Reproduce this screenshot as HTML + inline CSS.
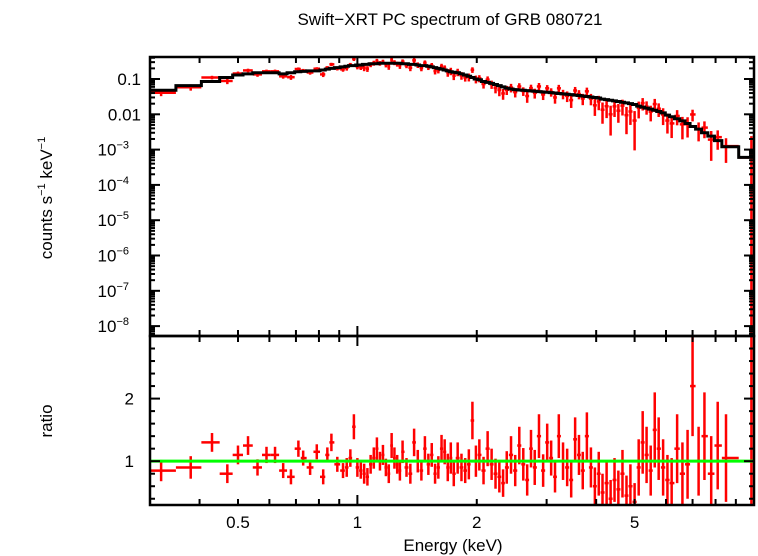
<!DOCTYPE html>
<html><head><meta charset="utf-8"><style>
html,body{margin:0;padding:0;background:#fff;width:758px;height:556px;overflow:hidden;}
svg{display:block;font-family:"Liberation Sans",sans-serif;}
</style></head><body>
<svg id="chart" width="758" height="556" viewBox="0 0 758 556" xmlns="http://www.w3.org/2000/svg">
<rect width="758" height="556" fill="#fff"/>
<text x="450" y="25" font-size="17" text-anchor="middle">Swift−XRT PC spectrum of GRB 080721</text>
<text transform="translate(52,198) rotate(-90)" font-size="17" text-anchor="middle">counts s<tspan font-size="11" dy="-7">−1</tspan><tspan dy="7"> keV</tspan><tspan font-size="11" dy="-7">−1</tspan></text>
<text transform="translate(52,421) rotate(-90)" font-size="17" text-anchor="middle">ratio</text>
<text x="453" y="551" font-size="17" text-anchor="middle">Energy (keV)</text>
<g id="topG"></g><g id="botG"></g><g id="axesG"></g>
</svg>
<script>
const energies=[0.32,0.38,0.43,0.47,0.50,0.53,0.56,0.59,0.62,0.65,
0.68,0.71,0.73,0.76,0.79,0.82,0.84,0.86,0.89,0.92,
0.94,0.96,0.98,1.00,1.02,1.04,1.06,1.08,1.10,1.12,
1.14,1.16,1.18,1.20,1.22,1.24,1.26,1.28,1.30,1.33,
1.36,1.39,1.42,1.45,1.48,1.51,1.54,1.57,1.60,1.63,
1.66,1.69,1.72,1.75,1.79,1.83,1.87,1.91,1.95,1.99,
2.03,2.08,2.13,2.18,2.23,2.28,2.33,2.38,2.44,2.50,
2.56,2.62,2.68,2.74,2.80,2.87,2.94,3.01,3.08,3.15,
3.22,3.30,3.38,3.46,3.54,3.62,3.70,3.79,3.88,3.97,
4.06,4.15,4.25,4.35,4.45,4.55,4.66,4.77,4.88,5.00,
5.12,5.24,5.36,5.49,5.62,5.75,5.90,6.05,6.20,6.40,
6.60,6.80,7.00,7.25,7.50,7.80,8.10,8.50,9.85];
const model=[0.048,0.065,0.085,0.11,0.13,0.14,0.15,0.15,0.15,0.14,
0.15,0.16,0.165,0.17,0.17,0.18,0.19,0.20,0.21,0.22,
0.23,0.24,0.24,0.25,0.25,0.26,0.26,0.27,0.27,0.27,
0.28,0.28,0.28,0.28,0.28,0.28,0.28,0.28,0.27,0.27,
0.26,0.26,0.25,0.24,0.24,0.23,0.22,0.21,0.20,0.19,
0.18,0.17,0.16,0.155,0.15,0.14,0.13,0.12,0.11,0.10,
0.095,0.085,0.08,0.075,0.07,0.065,0.06,0.055,0.052,0.05,
0.049,0.048,0.047,0.046,0.045,0.044,0.043,0.042,0.041,0.040,
0.039,0.038,0.037,0.036,0.035,0.034,0.033,0.032,0.031,0.030,
0.029,0.027,0.026,0.025,0.024,0.023,0.022,0.021,0.020,0.019,
0.017,0.016,0.015,0.014,0.013,0.012,0.011,0.0095,0.0085,0.0075,
0.0065,0.0055,0.0045,0.0038,0.003,0.0024,0.0018,0.0012,0.0006];
const ratios=[0.85,0.9,1.3,0.8,1.1,1.25,0.9,1.1,1.1,0.85,
0.75,1.2,1.05,0.9,1.15,0.75,1.1,1.3,0.95,0.85,
0.9,1.05,1.55,0.9,0.85,0.8,0.75,0.95,1.05,1.2,
1.0,1.1,0.9,0.8,1.25,1.05,0.95,0.85,1.15,0.9,
0.8,1.3,1.0,0.85,1.2,0.95,1.1,0.8,0.9,1.2,
1.15,0.9,1.05,0.8,1.05,0.9,0.85,0.95,1.65,1.0,
1.1,0.85,1.2,0.95,0.8,0.75,0.65,0.9,1.1,0.85,
1.25,0.95,0.7,1.2,0.9,1.4,0.85,1.3,1.05,0.75,
1.4,1.0,0.9,0.7,1.35,1.1,0.85,1.4,0.9,0.6,
0.8,0.5,0.65,0.4,0.7,0.55,0.8,0.45,0.6,0.35,
0.9,1.3,1.1,0.85,1.5,1.2,0.9,0.7,0.65,1.2,
0.8,0.95,2.2,1.0,1.4,0.8,1.25,1.05,1.0];
const errors=[0.17,0.18,0.15,0.15,0.15,0.15,0.13,0.13,0.13,0.12,
0.12,0.13,0.12,0.12,0.12,0.12,0.12,0.14,0.12,0.12,
0.15,0.14,0.2,0.15,0.13,0.16,0.14,0.15,0.17,0.18,
0.15,0.16,0.14,0.15,0.2,0.17,0.15,0.16,0.18,0.15,
0.16,0.22,0.18,0.16,0.2,0.17,0.19,0.16,0.18,0.22,
0.2,0.22,0.25,0.2,0.25,0.22,0.2,0.24,0.3,0.25,
0.25,0.22,0.28,0.25,0.24,0.25,0.22,0.26,0.3,0.25,
0.3,0.26,0.25,0.3,0.28,0.35,0.26,0.3,0.28,0.25,
0.35,0.3,0.3,0.28,0.35,0.32,0.3,0.38,0.32,0.3,
0.35,0.3,0.35,0.3,0.35,0.3,0.38,0.32,0.35,0.3,
0.45,0.5,0.45,0.4,0.6,0.5,0.45,0.4,0.4,0.55,
0.5,0.55,0.8,0.55,0.7,0.6,0.7,0.7,3.0];
const xTickLabels=["0.5","1","2","5"];
const xTickValues=[0.5,1,2,5];

const X0=150,X1=754,T0=57,T1=336,B1=505;
const xs=e=>X0+(Math.log10(e)-Math.log10(0.3))/(Math.log10(10)-Math.log10(0.3))*(X1-X0);
const yTopMax=Math.log10(0.42),yTopMin=-8.28;
const yt=v=>{const l=Math.min(Math.max(Math.log10(v),yTopMin-0.1),yTopMax+0.1);return T0+(yTopMax-l)/(yTopMax-yTopMin)*(T1-T0);};
const yb=r=>{const c=Math.min(Math.max(r,0.2),3.1);return T1+(3-c)/(3-0.3)*(B1-T1);};
const NS="http://www.w3.org/2000/svg";
function mk(tag,attrs,parent){const el=document.createElementNS(NS,tag);for(const k in attrs)el.setAttribute(k,attrs[k]);parent.appendChild(el);return el;}
const topG=document.getElementById('topG'),botG=document.getElementById('botG'),axesG=document.getElementById('axesG');
const svgEl=document.getElementById('chart');
const clipT=mk('clipPath',{id:'ct'},svgEl);mk('rect',{x:X0,y:T0,width:X1-X0+2,height:T1-T0},clipT);
const clipB=mk('clipPath',{id:'cb'},svgEl);mk('rect',{x:X0,y:T1,width:X1-X0+2,height:B1-T1},clipB);
topG.setAttribute('clip-path','url(#ct)');botG.setAttribute('clip-path','url(#cb)');
const n=energies.length;
const lo=[],hi=[];
for(let i=0;i<n;i++){
  lo.push(i===0?0.3:Math.sqrt(energies[i-1]*energies[i]));
  hi.push(i===n-1?10:Math.sqrt(energies[i]*energies[i+1]));
}
for(let i=0;i<n;i++){
  const x=xs(energies[i]),xa=xs(lo[i]),xb=xs(hi[i]);
  const f=model[i]*ratios[i],fe=model[i]*errors[i];
  const g=mk('g',{stroke:'#f00','stroke-width':2.5},topG);
  
  
  mk('line',{x1:xa,x2:xb,y1:yt(f),y2:yt(f)},g);
  mk('line',{x1:x,x2:x,y1:yt(f+fe),y2:yt(Math.max(f-fe,1e-10))},g);
  const h=mk('g',{stroke:'#f00','stroke-width':2.5},botG);
  
  
  mk('line',{x1:xa,x2:xb,y1:yb(ratios[i]),y2:yb(ratios[i])},h);
  mk('line',{x1:x,x2:x,y1:yb(ratios[i]+errors[i]),y2:yb(ratios[i]-errors[i])},h);
}
let d='';
for(let i=0;i<n;i++){const y=yt(model[i]);d+=(i===0?'M':'L')+xs(lo[i])+','+y+'L'+xs(hi[i])+','+y;}
const mp=mk('path',{d:d,fill:'none',stroke:'#000','stroke-width':3},topG);


const gl=mk('line',{x1:X0,x2:X1,y1:yb(1),y2:yb(1),stroke:'#0f0','stroke-width':3},botG);


const f1=mk('rect',{x:X0,y:T0,width:X1-X0,height:T1-T0,fill:'none',stroke:'#000','stroke-width':2.5},axesG);


const f2=mk('rect',{x:X0,y:T1,width:X1-X0,height:B1-T1,fill:'none',stroke:'#000','stroke-width':2.5},axesG);


const xt=[0.4,0.5,0.6,0.7,0.8,0.9,1,2,3,4,5,6,7,8,9];
xt.forEach(v=>{const x=xs(v),L=v===1?10:6;
 [[T0,1],[T1,-1],[T1,1],[B1,-1]].forEach(([y,s])=>mk('line',{x1:x,x2:x,y1:y,y2:y+s*L,stroke:'#000','stroke-width':2},axesG));});
xTickValues.forEach((v,i)=>{const t=mk('text',{x:xs(v),y:528,'font-size':17,'text-anchor':'middle'},axesG);t.textContent=xTickLabels[i];
 
 });
for(let dcd=-9;dcd<=0;dcd++){for(let m=1;m<10;m++){const v=m*Math.pow(10,dcd);const y=yt(v);if(y<T0||y>T1)continue;const L=m===1?10:5;
 mk('line',{x1:X0,x2:X0+L,y1:y,y2:y,stroke:'#000','stroke-width':2},axesG);mk('line',{x1:X1,x2:X1-L,y1:y,y2:y,stroke:'#000','stroke-width':2},axesG);}}
const yLabs=[[0.1,'0.1',null],[0.01,'0.01',null],[1e-3,'10','−3'],[1e-4,'10','−4'],[1e-5,'10','−5'],[1e-6,'10','−6'],[1e-7,'10','−7'],[1e-8,'10','−8']];
yLabs.forEach(([v,b,e])=>{const t=mk('text',{x:e?129:141,y:yt(v)+6,'font-size':17,'text-anchor':'end'},axesG);
 
 
 t.textContent=b;if(e){const s=mk('tspan',{'font-size':11,dy:-7},t);s.textContent=e;}});
for(let r=0.4;r<=3.01;r+=0.2){const y=yb(r);const L=(Math.abs(r-1)<0.01||Math.abs(r-2)<0.01)?10:5;
 mk('line',{x1:X0,x2:X0+L,y1:y,y2:y,stroke:'#000','stroke-width':2},axesG);mk('line',{x1:X1,x2:X1-L,y1:y,y2:y,stroke:'#000','stroke-width':2},axesG);}
[[1,'1'],[2,'2']].forEach(([v,s])=>{const t=mk('text',{x:134,y:yb(v)+6,'font-size':17,'text-anchor':'end'},axesG);t.textContent=s;
 
 });
</script>
</body></html>
